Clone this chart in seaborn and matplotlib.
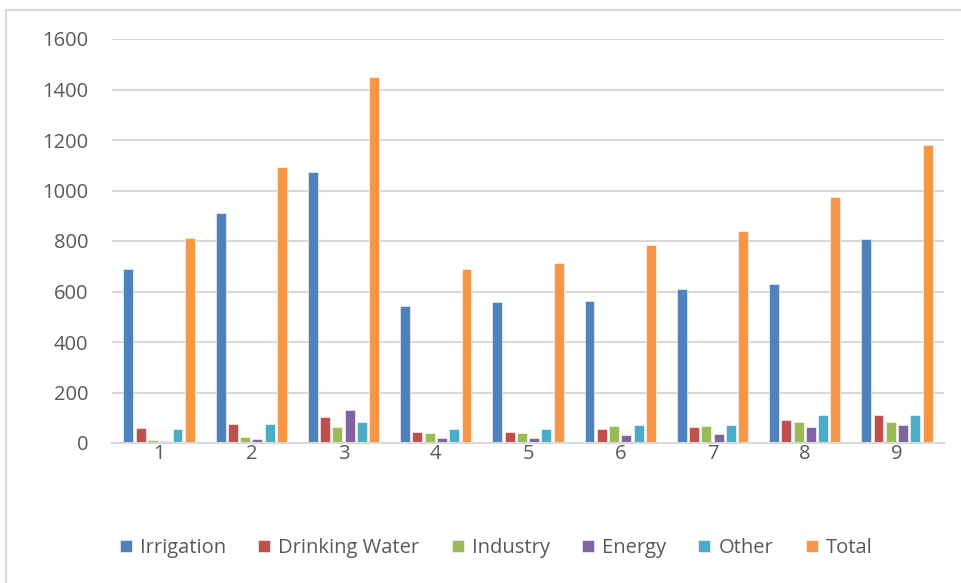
import matplotlib
matplotlib.use("Agg")
import matplotlib.pyplot as plt
from matplotlib.patches import Rectangle
import seaborn as sns
import pandas as pd

# Water use per region (million m3)
regions = ["1", "2", "3", "4", "5", "6", "7", "8", "9"]
irrigation = [688, 912, 1072, 541, 557, 561, 611, 628, 807]
drinking_water = [58, 75, 103, 43, 45, 55, 63, 91, 112]
industry = [12, 25, 64, 39, 39, 68, 68, 83, 83]
energy = [7, 17, 130, 20, 21, 32, 34, 64, 71]
other = [54, 75, 82, 55, 55, 71, 71, 112, 112]
total = [812, 1094, 1448, 691, 711, 784, 838, 973, 1180]

series_names = ["Irrigation", "Drinking Water", "Industry", "Energy", "Other", "Total"]
series_values = [irrigation, drinking_water, industry, energy, other, total]
colors = ["#4F81BD", "#C0504D", "#9BBB59", "#8064A2", "#4BACC6", "#F79646"]

rows = []
for name, vals in zip(series_names, series_values):
    for r, v in zip(regions, vals):
        rows.append({"Region": r, "Use": name, "Value": v})
df = pd.DataFrame(rows)

sns.set_theme(style="white")
plt.rcParams["font.family"] = ["Open Sans", "DejaVu Sans"]

fig = plt.figure(figsize=(9.61, 5.83), dpi=100)
W, H = 961, 583
ax = fig.add_axes([112 / W, 1 - 443 / H, 832 / W, (443 - 39) / H])

sns.barplot(data=df, x="Region", y="Value", hue="Use", order=regions,
            hue_order=series_names, palette=colors, width=0.8, gap=0.19,
            saturation=1, ax=ax, edgecolor="white", linewidth=0.4)

ax.set_ylim(0, 1600)
ax.set_xlim(-0.51, 8.51)
ax.set_yticks(range(0, 1601, 200))
ax.yaxis.grid(True, color="#d9d9d9", linewidth=1.5)
ax.set_axisbelow(True)
for s in ["top", "right", "left"]:
    ax.spines[s].set_visible(False)
ax.spines["bottom"].set_color("#d9d9d9")
ax.spines["bottom"].set_linewidth(1.5)
ax.set_xlabel("")
ax.set_ylabel("")
ax.tick_params(axis="y", length=0, pad=17, labelsize=14.5, labelcolor="#595959")
ax.tick_params(axis="x", length=0, pad=1, labelsize=14.5, labelcolor="#595959")

handles, labels = ax.get_legend_handles_labels()
ax.get_legend().remove()
fig.legend(handles, labels, loc="center", bbox_to_anchor=(496 / W, 1 - 548 / H),
           ncol=6, frameon=False, fontsize=14.5, handlelength=0.6, handleheight=0.6,
           handletextpad=0.4, columnspacing=1.6, labelcolor="#595959")

# chart area border
fig.patches.append(Rectangle((5.5 / W, -0.05), 1.1, 1 - 9.5 / H + 0.05,
                             transform=fig.transFigure, fill=False,
                             edgecolor="#d9d9d9", linewidth=1.5))

fig.savefig("out.png", dpi=100)
